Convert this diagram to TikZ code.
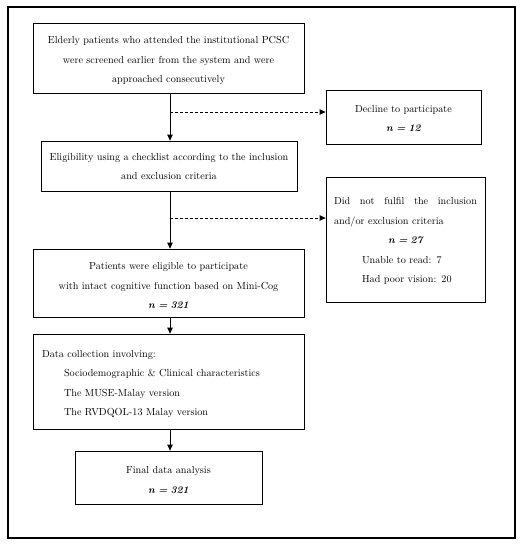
\documentclass[tikz,border=0pt]{standalone}
\usetikzlibrary{arrows.meta}
\newcommand{\topstrut}[1]{\rule{0pt}{#1}}
\begin{document}
\begin{tikzpicture}[x=1pt,y=-1pt,
  txt/.style={font=\fontsize{10.2}{19.5}\selectfont},
  box/.style={draw,line width=0.8pt,txt,inner sep=0pt},
  flow/.style={line width=0.8pt,-{Triangle[width=5.5pt,length=6pt]}},
  side/.style={flow,dashed,dash pattern=on 3pt off 2pt}]
\useasboundingbox (0,0) rectangle (527,550);
\draw[line width=1.1pt] (8,7) rectangle (515,538);
\coordinate (spine) at (170,0);
\node[box,minimum width=271pt,minimum height=70pt,text width=260pt,align=center] (b1) at (168.5,58)
  {\topstrut{13pt}Elderly patients who attended the institutional PCSC\\ were screened earlier from the system and were\\ approached consecutively};
\node[box,minimum width=155pt,minimum height=54pt,text width=145pt,align=center] (dec) at (403.5,117)
  {\topstrut{10pt}Decline to participate\\ {\bfseries\itshape n = 12}};
\node[box,minimum width=256pt,minimum height=50pt,text width=248pt,align=center] (b2) at (169,166)
  {\topstrut{8pt}Eligibility using a checklist according to the inclusion\\ and exclusion criteria};
\node[box,minimum width=159pt,minimum height=125pt,text width=143pt,align=left] (dnf) at (405.5,239.5)
  {\topstrut{10pt}Did\hfill not\hfill fulfil\hfill the\hfill inclusion\\ and/or exclusion criteria\\ \hspace*{0pt}\hfill{\bfseries\itshape n = 27}\hfill\hspace*{0pt}\\ \hspace*{28pt}Unable to read: 7\\ \hspace*{28pt}Had poor vision: 20};
\node[box,minimum width=271pt,minimum height=68pt,text width=260pt,align=center] (b3) at (168.5,283)
  {\topstrut{12.5pt}Patients were eligible to participate\\ with intact cognitive function based on Mini-Cog\\ {\bfseries\itshape n = 321}};
\node[box,minimum width=271pt,minimum height=95pt,text width=253pt,align=left] (b4) at (168.5,381.5)
  {\topstrut{12.5pt}Data collection involving:\\ \hspace*{22pt}Sociodemographic \& Clinical characteristics\\ \hspace*{22pt}The MUSE-Malay version\\ \hspace*{22pt}The RVDQOL-13 Malay version};
\node[box,minimum width=187pt,minimum height=53pt,text width=177pt,align=center] (b5) at (168.5,477.5)
  {\topstrut{12.5pt}Final data analysis\\ {\bfseries\itshape n = 321}};
\coordinate (d1) at (170,112);
\coordinate (d2) at (170,218);
\draw[flow] (b1.south -| spine) -- (b2.north -| spine);
\draw[flow] (b2.south -| spine) -- (b3.north -| spine);
\draw[flow] (b3.south -| spine) -- (b4.north -| spine);
\draw[flow] (b4.south -| spine) -- (b5.north -| spine);
\draw[side] (d1) -- (d1 -| dec.west);
\draw[side] (d2) -- (d2 -| dnf.west);
\end{tikzpicture}
\end{document}
